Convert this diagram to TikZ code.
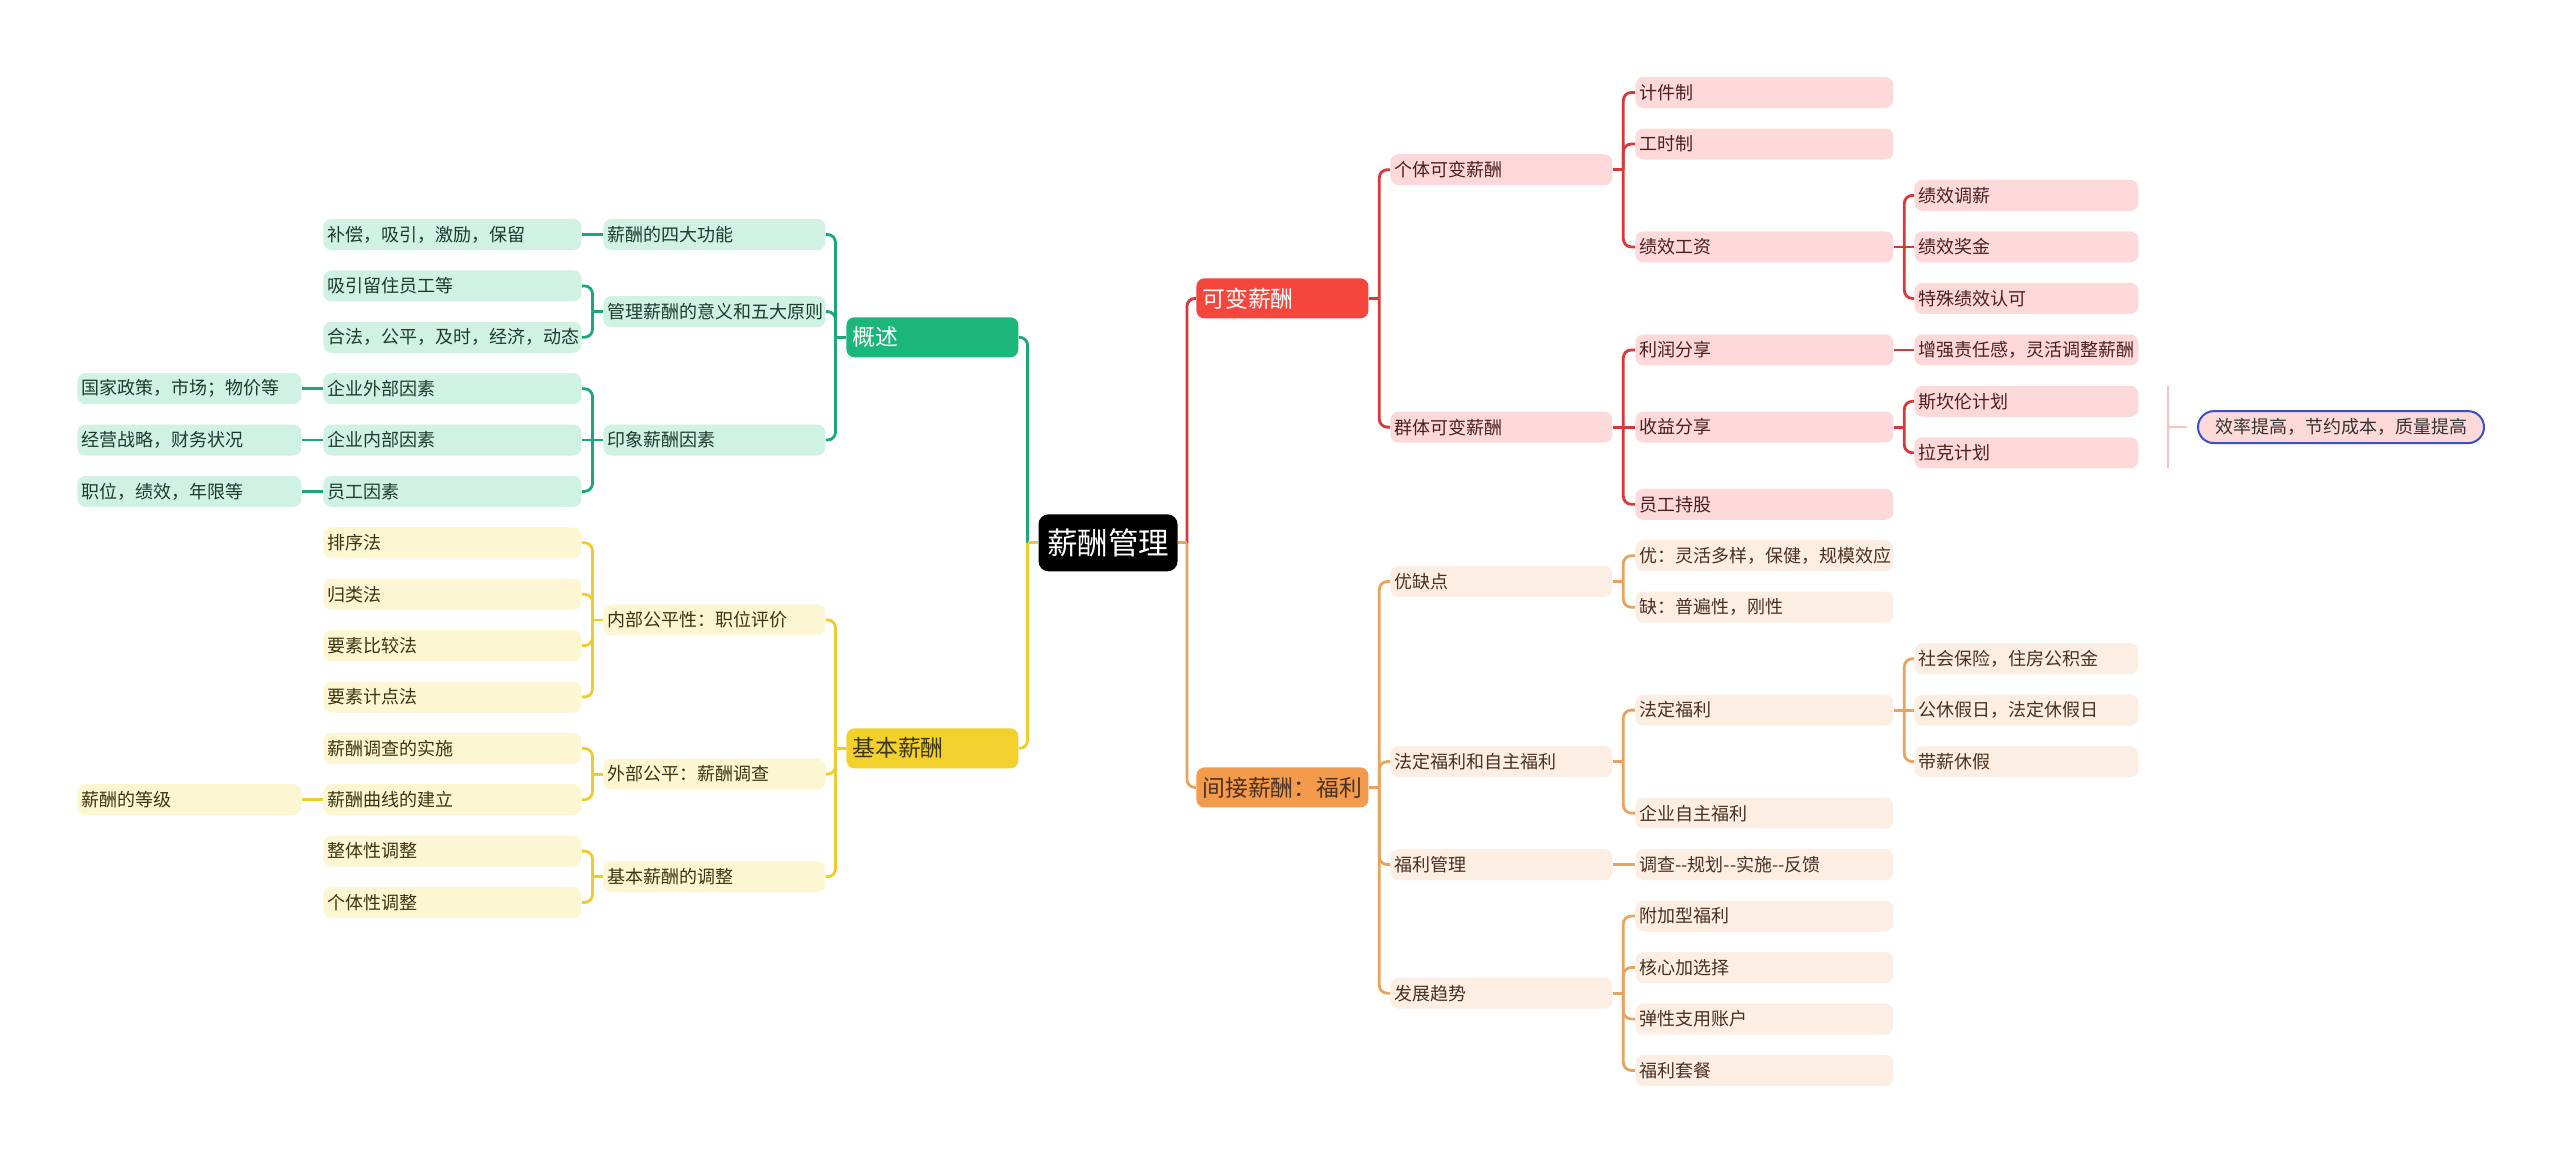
\documentclass[tikz,border=0pt]{standalone}
\usepackage{fontspec}
\setmainfont{Noto Sans CJK SC}
\definecolor{gFill}{HTML}{1CB57A}
\definecolor{gLight}{HTML}{CFF2E2}
\definecolor{gLine}{HTML}{1DA67A}
\definecolor{gText}{HTML}{1F3A30}
\definecolor{yFill}{HTML}{F2D12C}
\definecolor{yLight}{HTML}{FDF6D2}
\definecolor{yLine}{HTML}{EFCB2F}
\definecolor{yText}{HTML}{3D3510}
\definecolor{rFill}{HTML}{F5463D}
\definecolor{rLight}{HTML}{FDD9D9}
\definecolor{rLine}{HTML}{D7383B}
\definecolor{rText}{HTML}{4A1F1F}
\definecolor{oFill}{HTML}{F29B4C}
\definecolor{oLight}{HTML}{FDEEE3}
\definecolor{oLine}{HTML}{E9A35E}
\definecolor{oText}{HTML}{4A3020}
\definecolor{sumBorder}{HTML}{3A4FC7}
\definecolor{brkCol}{HTML}{F6C3C3}
\tikzset{
  base/.style={anchor=west, rounded corners=4pt, inner ysep=0pt, align=left},
  sm/.style={base, inner xsep=2pt, minimum height=15.5pt, font=\fontsize{9pt}{10pt}\selectfont},
  lvA/.style={sm, text width=107pt},
  lvB/.style={sm, text width=125pt},
  lvC/.style={sm, text width=108pt},
  headbox/.style={base, inner xsep=3pt, minimum height=20pt, text width=80pt, font=\fontsize{11.4pt}{13pt}\selectfont},
  gS/.style={fill=gLight, text=gText},
  yS/.style={fill=yLight, text=yText},
  rS/.style={fill=rLight, text=rText},
  oS/.style={fill=oLight, text=oText},
  gl/.style={draw=gLine, line width=1.4pt},
  yl/.style={draw=yLine, line width=1.4pt},
  rl/.style={draw=rLine, line width=1.4pt},
  ol/.style={draw=oLine, line width=1.4pt},
  rootbox/.style={fill=black, text=white, rounded corners=5pt, minimum width=69.5pt, minimum height=28.5pt, inner sep=0pt, font=\fontsize{15.25pt}{17pt}\selectfont},
  sumbox/.style={anchor=west, fill=rLight, draw=sumBorder, line width=1pt, rounded corners=8pt, minimum width=143pt, minimum height=16pt, inner sep=0pt, text=black!80, font=\fontsize{9pt}{10pt}\selectfont},
  brk/.style={draw=brkCol, line width=0.8pt}
}
% #1 style, #2 parent, #3 children above/below (bent), #4 children level with the parent (straight)
\newcommand{\linkRight}[4]{\draw[#1] (#2.east) -- ++(10.5,0) coordinate (tk);
  \foreach \ch in {#3}{\draw[#1,rounded corners=4pt] (tk) |- (\ch.west);}
  \foreach \ch in {#4}{\draw[#1] (tk) -- (\ch.west);}}
\newcommand{\linkLeft}[4]{\draw[#1] (#2.west) -- ++(-10.5,0) coordinate (tk);
  \foreach \ch in {#3}{\draw[#1,rounded corners=4pt] (tk) |- (\ch.east);}
  \foreach \ch in {#4}{\draw[#1] (tk) -- (\ch.east);}}
\newcommand{\oneRight}[3]{\draw[#1] (#2.east) -- (#3.west);}
\newcommand{\oneLeft}[3]{\draw[#1] (#2.west) -- (#3.east);}
\begin{document}
\begin{tikzpicture}[x=0.5pt,y=-0.5pt]
\useasboundingbox (0,0) rectangle (2560,1163);
\fill[white] (0,0) rectangle (2560,1163);

% root
\node[rootbox] (root) at (1108,542.8) {薪酬管理};

% level 1
\node[headbox, fill=gFill, text=white] (g1) at (846,337.3) {概述};
\node[headbox, fill=yFill, text=yText] (y1) at (846,748.3) {基本薪酬};
\node[headbox, fill=rFill, text=white] (r1) at (1196,298.4) {可变薪酬};
\node[headbox, fill=oFill, text=oText] (o1) at (1196,787.4) {间接薪酬：福利};

% left level 2
\node[lvA, gS] (g2a) at (603,234.5) {薪酬的四大功能};
\node[lvA, gS] (g2b) at (603,311.6) {管理薪酬的意义和五大原则};
\node[lvA, gS] (g2c) at (603,440.0) {印象薪酬因素};
\node[lvA, yS] (y2a) at (603,619.9) {内部公平性：职位评价};
\node[lvA, yS] (y2b) at (603,774.1) {外部公平：薪酬调查};
\node[lvA, yS] (y2c) at (603,876.8) {基本薪酬的调整};

% left level 3
\node[lvB, gS] (g3a) at (323,234.5) {补偿，吸引，激励，保留};
\node[lvB, gS] (g3b) at (323,285.9) {吸引留住员工等};
\node[lvB, gS] (g3c) at (323,337.3) {合法，公平，及时，经济，动态};
\node[lvB, gS] (g3d) at (323,388.7) {企业外部因素};
\node[lvB, gS] (g3e) at (323,440.0) {企业内部因素};
\node[lvB, gS] (g3f) at (323,491.4) {员工因素};
\node[lvB, yS] (y3a) at (323,542.8) {排序法};
\node[lvB, yS] (y3b) at (323,594.2) {归类法};
\node[lvB, yS] (y3c) at (323,645.6) {要素比较法};
\node[lvB, yS] (y3d) at (323,697.0) {要素计点法};
\node[lvB, yS] (y3e) at (323,748.4) {薪酬调查的实施};
\node[lvB, yS] (y3f) at (323,799.7) {薪酬曲线的建立};
\node[lvB, yS] (y3g) at (323,851.1) {整体性调整};
\node[lvB, yS] (y3h) at (323,902.5) {个体性调整};

% left level 4
\node[lvC, gS] (g4a) at (77,388.7) {国家政策，市场；物价等};
\node[lvC, gS] (g4b) at (77,440.0) {经营战略，财务状况};
\node[lvC, gS] (g4c) at (77,491.4) {职位，绩效，年限等};
\node[lvC, yS] (y4a) at (77,799.7) {薪酬的等级};

% right level 2
\node[lvA, rS] (r2a) at (1390,169.7) {个体可变薪酬};
\node[lvA, rS] (r2b) at (1390,427.1) {群体可变薪酬};
\node[lvA, oS] (o2a) at (1390,581.5) {优缺点};
\node[lvA, oS] (o2b) at (1390,761.6) {法定福利和自主福利};
\node[lvA, oS] (o2c) at (1390,864.6) {福利管理};
\node[lvA, oS] (o2d) at (1390,993.2) {发展趋势};

% right level 3
\node[lvB, rS] (r3a) at (1635,92.5) {计件制};
\node[lvB, rS] (r3b) at (1635,144.0) {工时制};
\node[lvB, rS] (r3c) at (1635,246.9) {绩效工资};
\node[lvB, rS] (r3d) at (1635,349.9) {利润分享};
\node[lvB, rS] (r3e) at (1635,427.1) {收益分享};
\node[lvB, rS] (r3f) at (1635,504.3) {员工持股};
\node[lvB, oS] (o3a) at (1635,555.7) {优：灵活多样，保健，规模效应};
\node[lvB, oS] (o3b) at (1635,607.2) {缺：普遍性，刚性};
\node[lvB, oS] (o3c) at (1635,710.1) {法定福利};
\node[lvB, oS] (o3d) at (1635,813.1) {企业自主福利};
\node[lvB, oS] (o3e) at (1635,864.6) {调查-{}-规划-{}-实施-{}-反馈};
\node[lvB, oS] (o3f) at (1635,916.0) {附加型福利};
\node[lvB, oS] (o3g) at (1635,967.5) {核心加选择};
\node[lvB, oS] (o3h) at (1635,1019.0) {弹性支用账户};
\node[lvB, oS] (o3i) at (1635,1070.4) {福利套餐};

% right level 4
\node[lvC, rS] (r4a) at (1914,195.4) {绩效调薪};
\node[lvC, rS] (r4b) at (1914,246.9) {绩效奖金};
\node[lvC, rS] (r4c) at (1914,298.4) {特殊绩效认可};
\node[lvC, rS] (r4d) at (1914,349.9) {增强责任感，灵活调整薪酬};
\node[lvC, rS] (r4e) at (1914,401.3) {斯坎伦计划};
\node[lvC, rS] (r4f) at (1914,452.8) {拉克计划};
\node[lvC, oS] (o4a) at (1914,658.7) {社会保险，住房公积金};
\node[lvC, oS] (o4b) at (1914,710.1) {公休假日，法定休假日};
\node[lvC, oS] (o4c) at (1914,761.6) {带薪休假};

% summary
\node[sumbox] (sum) at (2197,427.1) {效率提高，节约成本，质量提高};
\coordinate (bt) at (2168,386);
\coordinate (bb) at (2168,468);
\coordinate (bm) at (2168,427.1);
\coordinate (be) at (2187,427.1);
\draw[brk] (bt) -- (bb);
\draw[brk] (bm) -- (be);

% root connectors
\draw[gl] (root.west) -- ++(-10.5,0) coordinate (tkL);
\draw[gl, rounded corners=4pt] (tkL) |- (g1.east);
\draw[yl, rounded corners=4pt] (tkL) |- (y1.east);
\draw[yl] (root.west) -- (tkL);
\draw[rl] (root.east) -- ++(9,0) coordinate (tkR);
\draw[rl, rounded corners=4pt] (tkR) |- (r1.west);
\draw[ol, rounded corners=4pt] (tkR) |- (o1.west);
\draw[ol] (root.east) -- (tkR);

% left branches
\linkLeft{gl}{g1}{g2a,g2b,g2c}{}
\oneLeft{gl}{g2a}{g3a}
\linkLeft{gl}{g2b}{g3b,g3c}{}
\linkLeft{gl}{g2c}{g3d,g3f}{g3e}
\oneLeft{gl}{g3d}{g4a}
\oneLeft{gl}{g3e}{g4b}
\oneLeft{gl}{g3f}{g4c}
\linkLeft{yl}{y1}{y2a,y2b,y2c}{}
\linkLeft{yl}{y2a}{y3a,y3b,y3c,y3d}{}
\linkLeft{yl}{y2b}{y3e,y3f}{}
\linkLeft{yl}{y2c}{y3g,y3h}{}
\oneLeft{yl}{y3f}{y4a}

% right branches
\linkRight{rl}{r1}{r2a,r2b}{}
\linkRight{rl}{r2a}{r3a,r3b,r3c}{}
\linkRight{rl}{r2b}{r3d,r3f}{r3e}
\linkRight{rl}{r3c}{r4a,r4c}{r4b}
\oneRight{rl}{r3d}{r4d}
\linkRight{rl}{r3e}{r4e,r4f}{}
\linkRight{ol}{o1}{o2a,o2b,o2c,o2d}{}
\linkRight{ol}{o2a}{o3a,o3b}{}
\linkRight{ol}{o2b}{o3c,o3d}{}
\oneRight{ol}{o2c}{o3e}
\linkRight{ol}{o2d}{o3f,o3g,o3h,o3i}{}
\linkRight{ol}{o3c}{o4a,o4c}{o4b}
\end{tikzpicture}
\end{document}
